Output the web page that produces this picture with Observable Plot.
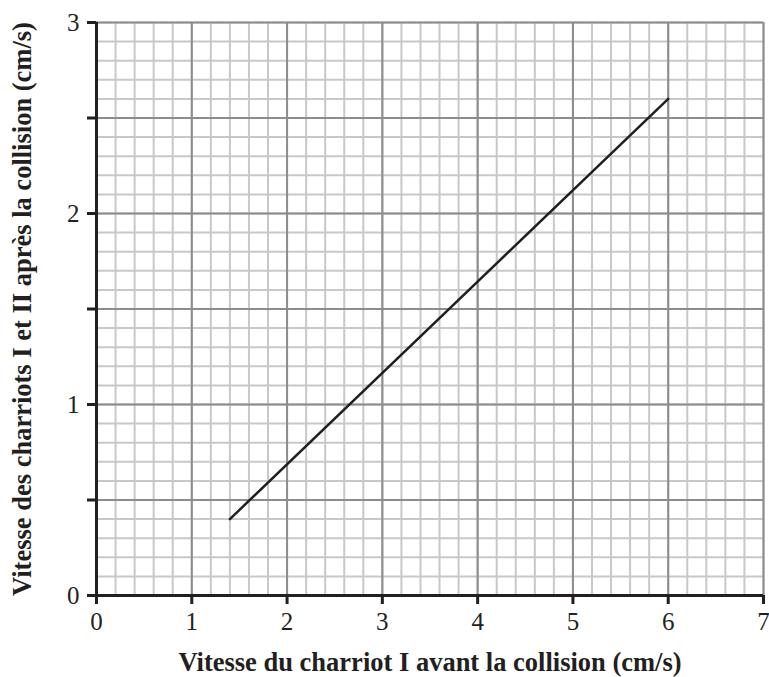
<!DOCTYPE html>
<html>
<head>
<meta charset="utf-8">
<script src="https://cdn.jsdelivr.net/npm/d3@7"></script>
<script src="https://cdn.jsdelivr.net/npm/@observablehq/plot@0.6"></script>
<style>
  html, body { margin: 0; padding: 0; background: #fff; }
  svg { display: block; }
</style>
</head>
<body>
<div id="chart"></div>
<script>
// Data
const lineX = [1.4, 6];
const lineY = [0.4, 2.6];

// Axis ticks
const xTicks = [0, 1, 2, 3, 4, 5, 6, 7];
const yTicks = [0, 0.5, 1, 1.5, 2, 2.5, 3];
const yLabelTicks = [0, 1, 2, 3];

// Grid
const xMinor = d3.range(0, 36).map(i => i / 5);   // every 0.2
const yMinor = d3.range(0, 31).map(i => i / 10);  // every 0.1
const xMajor = xTicks;
const yMajor = yTicks;

const xTitle = "Vitesse du charriot I avant la collision (cm/s)";
const yTitle = "Vitesse des charriots I et II après la collision (cm/s)";

const points = lineX.map((x, i) => ({x, y: lineY[i]}));

const chart = Plot.plot({
  width: 769,
  height: 677,
  marginLeft: 96,
  marginRight: 6,
  marginTop: 22,
  marginBottom: 82,
  style: {fontFamily: "'Liberation Serif', 'DejaVu Serif', serif", background: "#fff", color: "#231f20"},
  x: {domain: [0, 7]},
  y: {domain: [0, 3]},
  marks: [
    Plot.ruleX(xMinor, {stroke: "#c8c8c8", strokeWidth: 2}),
    Plot.ruleY(yMinor, {stroke: "#c8c8c8", strokeWidth: 2}),
    Plot.ruleX(xMajor, {stroke: "#8c8c8c", strokeWidth: 2}),
    Plot.ruleY(yMajor, {stroke: "#8c8c8c", strokeWidth: 2}),
    Plot.line(points, {x: "x", y: "y", stroke: "#231f20", strokeWidth: 2.5}),
    Plot.ruleX([0], {stroke: "#231f20", strokeWidth: 3}),
    Plot.ruleY([0], {stroke: "#231f20", strokeWidth: 3}),
    Plot.axisX({ticks: xTicks, tickSize: 9, strokeWidth: 3, label: null, tickFormat: () => ""}),
    Plot.axisY({ticks: yTicks, tickSize: 9, strokeWidth: 3, label: null, tickFormat: () => ""}),
    Plot.text(xTicks, {x: d => d, y: 0, dy: 26, fontSize: 25, textAnchor: "middle", lineAnchor: "middle", fill: "#231f20"}),
    Plot.text(yLabelTicks, {x: 0, y: d => d, dx: -17, fontSize: 25, textAnchor: "end", lineAnchor: "middle", fill: "#231f20"}),
    Plot.text([xTitle], {frameAnchor: "bottom", textAnchor: "middle", lineAnchor: "middle", dy: 67, fontSize: 26.5, fontWeight: "bold", fill: "#231f20"}),
    Plot.text([yTitle], {frameAnchor: "left", textAnchor: "middle", lineAnchor: "middle", dx: -74, dy: 0, rotate: -90, fontSize: 26.5, fontWeight: "bold", fill: "#231f20"})
  ]
});
document.getElementById("chart").appendChild(chart);
</script>
</body>
</html>
